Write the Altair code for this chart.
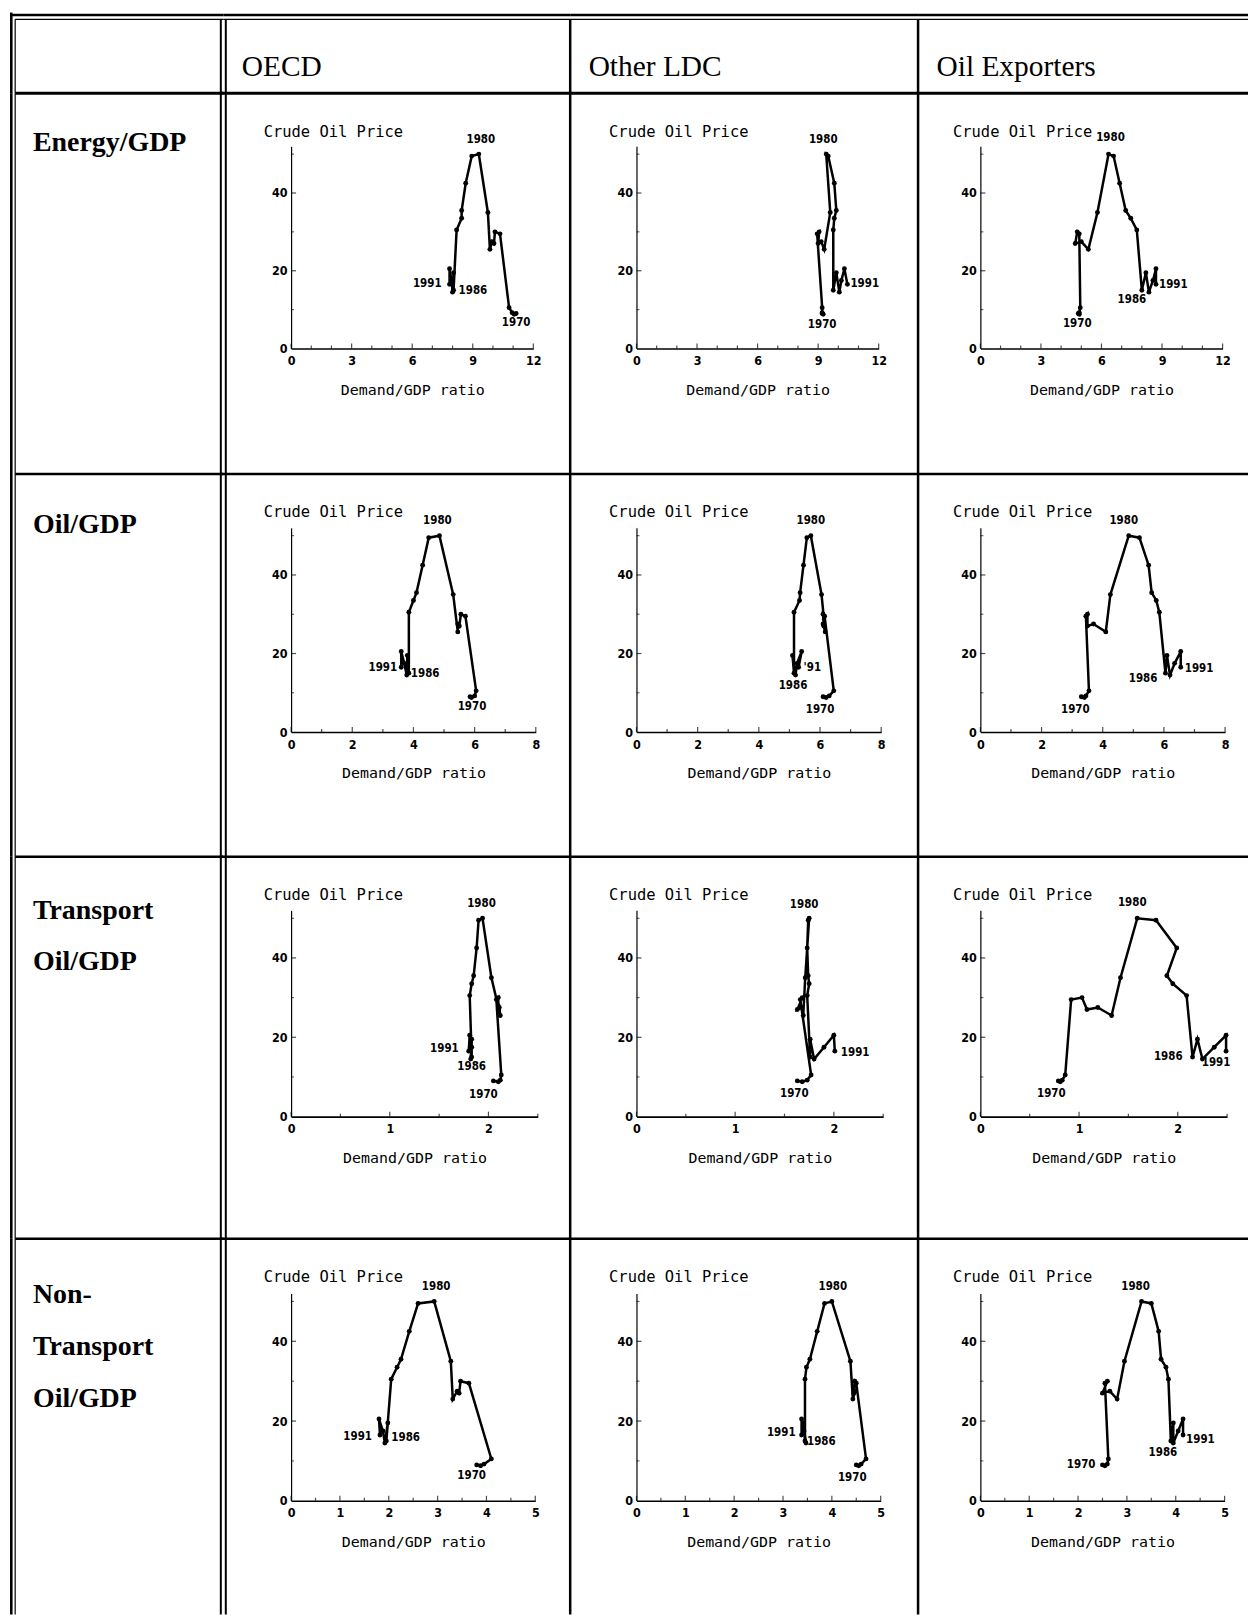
import altair as alt
import pandas as pd

# ---------------- data ----------------
YEARS = list(range(1970, 1992))
PRICE = [9.0, 8.8, 9.2, 10.5, 29.5, 30.0, 27.0, 27.5, 25.5, 35.0,
         50.0, 49.5, 42.5, 35.5, 33.5, 30.5, 15.0, 19.5, 14.5, 17.5, 20.5, 16.5]

COLUMN_HEADERS = ["OECD", "Other LDC", "Oil Exporters"]
ROW_HEADERS = [["Energy/GDP"], ["Oil/GDP"], ["Transport", "Oil/GDP"],
               ["Non-", "Transport", "Oil/GDP"]]

ENERGY_OECD = [11.15, 11.05, 10.95, 10.8, 10.35, 10.1, 10.05, 9.95, 9.85, 9.75,
               9.3, 8.95, 8.65, 8.45, 8.45, 8.2, 8.05, 8.05, 8.0, 7.95, 7.85, 7.85]
ENERGY_LDC = [9.2, 9.25, 9.2, 9.2, 8.95, 9.05, 9.0, 9.15, 9.3, 9.6,
              9.4, 9.5, 9.8, 9.9, 9.8, 9.75, 9.75, 9.9, 10.05, 10.15, 10.3, 10.45]
ENERGY_EXP = [4.85, 4.9, 4.9, 4.95, 4.9, 4.8, 4.7, 5.0, 5.35, 5.8,
              6.35, 6.6, 6.9, 7.2, 7.45, 7.75, 8.0, 8.2, 8.35, 8.55, 8.7, 8.7]

OIL_OECD = [5.85, 5.9, 6.0, 6.05, 5.7, 5.55, 5.5, 5.45, 5.45, 5.3,
            4.85, 4.5, 4.3, 4.1, 4.0, 3.85, 3.85, 3.8, 3.78, 3.7, 3.6, 3.6]
OIL_LDC = [6.1, 6.2, 6.3, 6.45, 6.15, 6.1, 6.12, 6.1, 6.17, 6.05,
           5.7, 5.57, 5.46, 5.35, 5.33, 5.15, 5.15, 5.1, 5.2, 5.25, 5.4, 5.3]
OIL_EXP = [3.3, 3.4, 3.45, 3.55, 3.45, 3.5, 3.5, 3.7, 4.1, 4.25,
           4.85, 5.2, 5.5, 5.6, 5.75, 5.85, 6.05, 6.1, 6.2, 6.35, 6.55, 6.55]

TRANS_OECD = [2.05, 2.1, 2.12, 2.13, 2.08, 2.1, 2.1, 2.11, 2.12, 2.03,
              1.94, 1.9, 1.88, 1.85, 1.83, 1.81, 1.83, 1.83, 1.82, 1.83, 1.81, 1.8]
TRANS_LDC = [1.63, 1.68, 1.73, 1.77, 1.66, 1.68, 1.63, 1.67, 1.69, 1.71,
             1.75, 1.74, 1.73, 1.74, 1.75, 1.73, 1.76, 1.76, 1.8, 1.9, 2.0, 2.01]
TRANS_EXP = [0.79, 0.81, 0.83, 0.86, 0.92, 1.03, 1.08, 1.19, 1.33, 1.42,
             1.59, 1.78, 1.99, 1.89, 1.95, 2.09, 2.15, 2.2, 2.25, 2.37, 2.49, 2.49]

NONTR_OECD = [3.8, 3.88, 3.95, 4.1, 3.64, 3.47, 3.44, 3.4, 3.31, 3.27,
              2.93, 2.6, 2.42, 2.25, 2.17, 2.05, 1.95, 1.98, 1.92, 1.88, 1.8, 1.82]
NONTR_LDC = [4.5, 4.55, 4.6, 4.7, 4.5, 4.47, 4.45, 4.48, 4.43, 4.38,
             4.0, 3.85, 3.7, 3.55, 3.48, 3.45, 3.45, 3.42, 3.47, 3.43, 3.38, 3.38]
NONTR_EXP = [2.5, 2.55, 2.6, 2.62, 2.55, 2.6, 2.5, 2.65, 2.8, 2.95,
             3.3, 3.5, 3.65, 3.7, 3.8, 3.85, 3.9, 3.95, 3.95, 4.05, 4.15, 4.15]

RATIOS = [[ENERGY_OECD, ENERGY_LDC, ENERGY_EXP],
          [OIL_OECD, OIL_LDC, OIL_EXP],
          [TRANS_OECD, TRANS_LDC, TRANS_EXP],
          [NONTR_OECD, NONTR_LDC, NONTR_EXP]]

X_MAX = [12, 8, 2.5, 5]
X_LABELS = [[0, 3, 6, 9, 12], [0, 2, 4, 6, 8], [0, 1, 2], [0, 1, 2, 3, 4, 5]]
X_MINOR = [[1, 2, 4, 5, 7, 8, 10, 11], [1, 3, 5, 7], [0.5, 1.5, 2.5],
           [0.5, 1.5, 2.5, 3.5, 4.5]]
Y_MAX = 52
Y_LABELS = [0, 20, 40]
Y_MAJOR_TICKS = [20, 40]
Y_MINOR = [10, 30, 50]

X_TITLE = "Demand/GDP ratio"
Y_TITLE = "Crude Oil Price"

# year labels shown in each panel: (year, text)
YEAR_LABELS = [
    [[(1980, "1980"), (1970, "1970"), (1991, "1991"), (1986, "1986")],
     [(1980, "1980"), (1970, "1970"), (1991, "1991")],
     [(1980, "1980"), (1970, "1970"), (1986, "1986"), (1991, "1991")]],
    [[(1980, "1980"), (1970, "1970"), (1991, "1991"), (1986, "1986")],
     [(1980, "1980"), (1970, "1970"), (1986, "1986"), (1991, "'91")],
     [(1980, "1980"), (1970, "1970"), (1986, "1986"), (1991, "1991")]],
    [[(1980, "1980"), (1970, "1970"), (1991, "1991"), (1986, "1986")],
     [(1980, "1980"), (1970, "1970"), (1991, "1991")],
     [(1980, "1980"), (1970, "1970"), (1986, "1986"), (1991, "1991")]],
    [[(1980, "1980"), (1970, "1970"), (1991, "1991"), (1986, "1986")],
     [(1980, "1980"), (1970, "1970"), (1991, "1991"), (1986, "1986")],
     [(1980, "1980"), (1970, "1970"), (1986, "1986"), (1991, "1991")]],
]

# ---------------- layout / style (pixels) ----------------
# label placement next to its point: (dx, dy, align)
LABEL_OFFSETS = [
    [[(2, -14, "center"), (0, 10, "center"), (-8, 0, "right"), (5, 1, "left")],
     [(-3, -14, "center"), (0, 12, "center"), (3, 0, "left")],
     [(2, -16, "center"), (-1, 11, "center"), (-10, 10, "center"), (3, 1, "left")]],
    [[(-2, -15, "center"), (2, 10, "center"), (-4, 1, "right"), (2, 1, "left")],
     [(0, -15, "center"), (-3, 13, "center"), (-1, 13, "center"), (5, 1, "left")],
     [(-5, -15, "center"), (-6, 13, "center"), (-8, 6, "right"), (4, 2, "left")]],
    [[(-1, -14, "center"), (-10, 14, "center"), (-10, -2, "right"), (0, 10, "center")],
     [(-5, -13, "center"), (-3, 13, "center"), (6, 2, "left")],
     [(-5, -15, "center"), (-7, 13, "center"), (-10, 0, "right"), (-10, 12, "center")]],
    [[(2, -14, "center"), (-5, 11, "center"), (-8, 2, "right"), (5, -3, "left")],
     [(1, -14, "center"), (-4, 13, "center"), (-6, -2, "right"), (2, 1, "left")],
     [(-6, -14, "center"), (-7, 0, "right"), (-8, 12, "center"), (3, 5, "left")]],
]

COL_W = [214, 348, 349, 331]
ROW_H = [81, 382, 384, 383, 377]
X0 = [0, 68, 66.5, 62.5]           # y-axis position inside each column's cell
AX_W = [243, 245.5, 247.5, 245]    # x-axis length per row
Y0 = [256, 258.8, 260.6, 263]      # y of value 0 inside the cell, per row
PX_PER_UNIT = [3.9, 3.94, 3.98, 4.0]
ROW_TEXT_Y = [58, 59, 62, 65]
HEADER_TEXT_Y = 63.5

SERIF = "Liberation Serif, Times New Roman, serif"
MONO = "DejaVu Sans Mono, monospace"
NARROW = "Liberation Sans Narrow, DejaVu Sans Condensed, Liberation Sans, sans-serif"

DUMMY = pd.DataFrame({"d": [0]})


def hline(y, x1, x2, sw):
    return alt.Chart(DUMMY).mark_rule(color="black", strokeWidth=sw).encode(
        x=alt.value(x1), x2=alt.value(x2), y=alt.value(y))


def vline(x, y1, y2, sw):
    return alt.Chart(DUMMY).mark_rule(color="black", strokeWidth=sw).encode(
        x=alt.value(x), y=alt.value(y1), y2=alt.value(y2))


def borders(ri, ci, w, h):
    out = []
    if ri == 0:
        out.append(hline(2.5, 0, w, 2.6))
        out.append(hline(6.8, 5.2 if ci == 0 else 0, w, 1.2))
        ys = 6.8
    else:
        xs = 5.2 if ci == 0 else (-2.5 if ci == 1 else 0)
        out.append(hline(0, xs, w, 3.0 if ri == 1 else 2.5))
        ys = 0
    if ci == 0:
        out.append(vline(1.3, 0, h, 2.6))
        out.append(vline(5.2, ys, h, 1.2))
    elif ci == 1:
        out.append(vline(-2.5, ys, h, 2.0))
        out.append(vline(2.5, ys, h, 2.0))
    else:
        out.append(vline(0, ys, h, 2.5))
    return out


def text_layer(txt, x, y, size, weight):
    return alt.Chart(pd.DataFrame({"t": [txt]})).mark_text(
        align="left", baseline="alphabetic", font=SERIF, fontSize=size,
        fontWeight=weight, color="black").encode(
        x=alt.value(x), y=alt.value(y), text="t:N")


def panel(ri, ci):
    r, c = ri - 1, ci - 1
    w, h = COL_W[ci], ROW_H[ri]
    x0, aw, y0, k = X0[ci], AX_W[r], Y0[r], PX_PER_UNIT[r]

    xscale = alt.Scale(domain=[0, X_MAX[r]], range=[x0, x0 + aw], nice=False, zero=False)
    yscale = alt.Scale(domain=[0, Y_MAX], range=[y0, y0 - Y_MAX * k], nice=False, zero=False)

    xaxis = alt.Axis(values=X_LABELS[r], format="d", title=X_TITLE, offset=y0 - h,
                     grid=False, ticks=False, tickSize=0, domainColor="black",
                     domainWidth=1.6, labelFlush=False, labelOverlap=False,
                     labelFont=NARROW, labelFontSize=12.5, labelFontWeight="bold",
                     labelColor="black", labelPadding=6,
                     titleFont=MONO, titleFontSize=15, titleFontWeight="normal",
                     titleColor="black", titleY=46, titleBaseline="alphabetic")
    yaxis = alt.Axis(values=Y_LABELS, format="d", title=Y_TITLE, offset=-x0,
                     grid=False, ticks=False, tickSize=0, domainColor="black",
                     domainWidth=1.2, labelOverlap=False,
                     labelFont=NARROW, labelFontSize=12.5, labelFontWeight="bold",
                     labelColor="black", labelPadding=4,
                     titleFont=MONO, titleFontSize=15.5, titleFontWeight="normal",
                     titleColor="black", titleAngle=0, titleAlign="left",
                     titleBaseline="alphabetic", titleX=-28, titleY=43)

    X = alt.X("ratio:Q", scale=xscale, axis=xaxis)
    Y = alt.Y("price:Q", scale=yscale, axis=yaxis)

    df = pd.DataFrame({"year": YEARS, "ratio": RATIOS[r][c], "price": PRICE})

    layers = [
        alt.Chart(df).mark_line(color="black", strokeWidth=2.5).encode(
            x=X, y=Y, order="year:Q"),
        alt.Chart(df).mark_circle(color="black", size=24, opacity=1).encode(x=X, y=Y),
        alt.Chart(pd.DataFrame({"ratio": X_LABELS[r], "price": [0] * len(X_LABELS[r])}))
        .mark_tick(orient="vertical", size=5, thickness=1.2, yOffset=-2.5, color="black")
        .encode(x=X, y=Y),
        alt.Chart(pd.DataFrame({"ratio": X_MINOR[r], "price": [0] * len(X_MINOR[r])}))
        .mark_tick(orient="vertical", size=3, thickness=1.2, yOffset=-1.5, color="black")
        .encode(x=X, y=Y),
        alt.Chart(pd.DataFrame({"ratio": [0] * len(Y_MAJOR_TICKS), "price": Y_MAJOR_TICKS}))
        .mark_tick(orient="horizontal", size=5, thickness=1.2, xOffset=2.5, color="black")
        .encode(x=X, y=Y),
        alt.Chart(pd.DataFrame({"ratio": [0] * len(Y_MINOR), "price": Y_MINOR}))
        .mark_tick(orient="horizontal", size=3, thickness=1.0, xOffset=1.5, color="black")
        .encode(x=X, y=Y),
    ]
    for (yr, txt), (dx, dy, al) in zip(YEAR_LABELS[r][c], LABEL_OFFSETS[r][c]):
        layers.append(
            alt.Chart(df).transform_filter(alt.datum.year == yr)
            .mark_text(dx=dx, dy=dy, align=al, baseline="middle", font=NARROW,
                       fontSize=11.5, fontWeight="bold", color="black")
            .encode(x=X, y=Y, text=alt.value(txt)))
    layers += borders(ri, ci, w, h)
    return alt.layer(*layers).properties(width=w, height=h)


def cell(ri, ci):
    w, h = COL_W[ci], ROW_H[ri]
    if ri >= 1 and ci >= 1:
        return panel(ri, ci)
    layers = []
    if ri == 0 and ci >= 1:
        layers.append(text_layer(COLUMN_HEADERS[ci - 1], 18.5, HEADER_TEXT_Y, 29.5, "normal"))
    if ri >= 1 and ci == 0:
        for i, line in enumerate(ROW_HEADERS[ri - 1]):
            layers.append(text_layer(line, 23, ROW_TEXT_Y[ri - 1] + 52 * i, 28, "bold"))
    layers += borders(ri, ci, w, h)
    return alt.layer(*layers).properties(width=w, height=h)


cells = [cell(ri, ci) for ri in range(5) for ci in range(4)]

chart = alt.concat(*cells, columns=4, spacing=0, bounds="flush", align="each").properties(
    padding=0, background="white"
).configure_view(strokeWidth=0)

chart.save("out.html", embed_options={"renderer": "svg", "actions": False})
